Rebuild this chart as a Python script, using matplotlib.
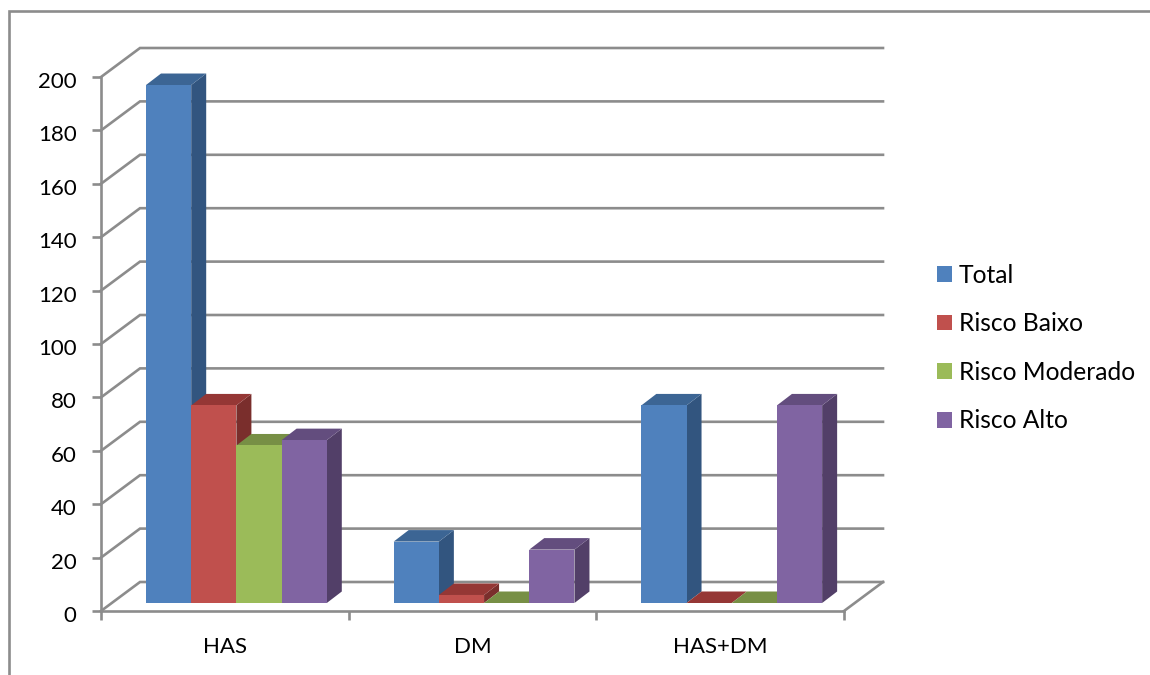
import matplotlib
matplotlib.use('Agg')
import matplotlib.pyplot as plt
from matplotlib.lines import Line2D
from matplotlib.transforms import ScaledTranslation
import numpy as np

plt.rcParams['font.family'] = ['Lato', 'DejaVu Sans']

categories = ['HAS', 'DM', 'HAS+DM']
total = [194, 23, 74]
risco_baixo = [74, 3, 0]
risco_moderado = [59, 0, 0]
risco_alto = [61, 20, 74]
y_ticks = list(range(0, 201, 20))

series = [
    ('Total', total, '#4F81BD', '#3C6594', '#32557F'),
    ('Risco Baixo', risco_baixo, '#C0504D', '#953735', '#7A2E2C'),
    ('Risco Moderado', risco_moderado, '#9BBB59', '#778F45', '#667A3B'),
    ('Risco Alto', risco_alto, '#8064A2', '#634D7E', '#523F68'),
]

W, H = 1150, 675
GRID = '#8C8C8C'
LW = 1.9

fig = plt.figure(figsize=(W / 100, H / 100), dpi=100, facecolor='white')
ax = fig.add_axes([101 / W, (H - 611) / H, 743 / W, 534 / H])
ax.set_xlim(0, 3)
ax.set_ylim(0, 200)
ax.patch.set_visible(False)

# pixel sizes expressed in data units
px_x = 3 / 743
px_y = 200 / 534
wall_dx, wall_dy = 39 * px_x, 29 * px_y
bar_dx, bar_dy = 15 * px_x, 11.5 * px_y
bar_w = 45.2 * px_x
bar_start = 45 * px_x
bar_lift = 8 * px_y

# back wall gridlines and the slanted lines on the side wall
for v in y_ticks:
    ax.plot([0, wall_dx, 3 + wall_dx], [v, v + wall_dy, v + wall_dy], color=GRID,
            lw=LW, clip_on=False, zorder=1, solid_joinstyle='miter')
ax.plot([3, 3 + wall_dx], [0, wall_dy], color=GRID, lw=LW, clip_on=False, zorder=1)

# bars, left to right so each front face covers the side of the previous one
z = 3
for c in range(len(categories)):
    for s, (name, vals, front, top, side) in enumerate(series):
        x0 = c + bar_start + s * bar_w
        h = vals[c] + bar_lift
        x1 = x0 + bar_w
        ax.fill([x1, x1 + bar_dx, x1 + bar_dx, x1],
                [bar_lift, bar_lift + bar_dy, h + bar_dy, h],
                color=side, lw=0, clip_on=False, zorder=z)
        ax.fill([x0, x1, x1 + bar_dx, x0 + bar_dx], [h, h, h + bar_dy, h + bar_dy],
                color=top, lw=0, clip_on=False, zorder=z)
        ax.bar(x0, vals[c], bar_w, bottom=bar_lift, align='edge', color=front,
               lw=0, clip_on=False, zorder=z + 0.5,
               label=name if c == 0 else None)
        z += 1

for side_name in ['top', 'right']:
    ax.spines[side_name].set_visible(False)
for side_name in ['left', 'bottom']:
    ax.spines[side_name].set_color(GRID)
    ax.spines[side_name].set_linewidth(LW)
    ax.spines[side_name].set_zorder(2)

ax.set_yticks(y_ticks)
ax.tick_params(axis='y', length=6.5, width=LW, color=GRID, labelsize=16, pad=11)
# numbers sit a little under their tick marks
shift = ScaledTranslation(0, -3 / 100, fig.dpi_scale_trans)
for label in ax.get_yticklabels():
    label.set_transform(label.get_transform() + shift)

ax.set_xticks(range(len(categories) + 1))
ax.set_xticklabels([])
ax.tick_params(axis='x', which='major', length=6.5, width=LW, color=GRID)
ax.set_xticks(np.arange(len(categories)) + 0.5, minor=True)
ax.set_xticklabels(categories, minor=True)
ax.tick_params(axis='x', which='minor', length=0, labelsize=16, pad=19)

ax.legend(loc='center left', bbox_to_anchor=(937 / W, (H - 348) / H),
          bbox_transform=fig.transFigure, frameon=False, fontsize=17.7,
          handlelength=0.61, handleheight=0.61, handletextpad=0.28,
          labelspacing=1.04, borderaxespad=0, borderpad=0)

# outer chart frame, cut off by the image on the right and bottom
fig.add_artist(Line2D([9 / W, 9 / W, 1], [0, (H - 11) / H, (H - 11) / H],
                      color=GRID, lw=LW, solid_joinstyle='miter'))

fig.savefig('out.png', dpi=100)
